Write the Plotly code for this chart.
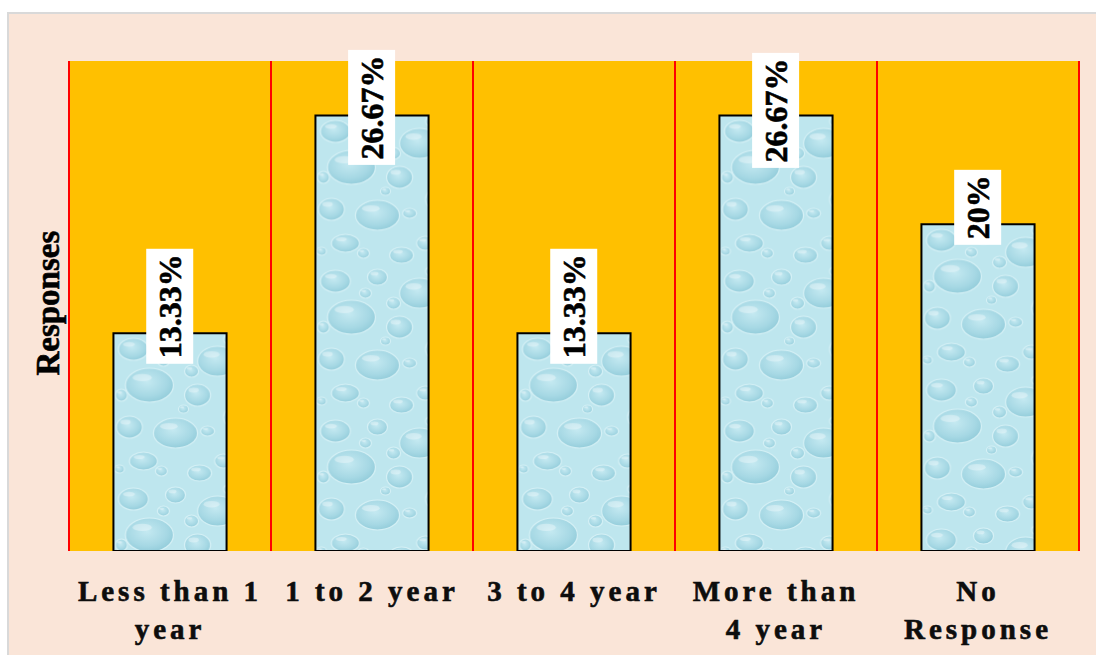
import base64
import plotly.graph_objects as go

# Experience groups and share of responses (%)
categories = ["Less than 1<br>year", "1 to 2 year", "3 to 4 year", "More than<br>4 year", "No<br>Response"]
responses = [13.33, 26.67, 13.33, 26.67, 20]
value_labels = ["13.33%", "26.67%", "13.33%", "26.67%", "20%"]

# label centre offset above the bar top, in px
label_lift = [27, 8, 27, 5, 17]

Y_MAX = 30
PLOT_H = 490
PLOT_W = 1010
BAR_W = 0.56
SERIF = "Liberation Serif, Times New Roman, serif"

# water-drop texture tile 130x150 (cx, cy, rx, ry)
drops = [(20, 16, 15, 11), (62, 12, 10, 8), (104, 28, 20, 15), (36, 52, 24, 17),
         (84, 62, 13, 11), (120, 84, 10, 10), (16, 94, 13, 11), (62, 100, 22, 15),
         (110, 128, 9, 7), (50, 28, 6, 5), (78, 38, 7, 6), (8, 62, 6, 6),
         (94, 98, 7, 5), (30, 128, 14, 9), (124, 54, 5, 5), (70, 76, 5, 4),
         (48, 138, 6, 5), (86, 140, 12, 8), (6, 136, 5, 4), (116, 6, 6, 5)]


def texture_uri(w, h):
    shapes = "".join(
        f'<ellipse cx="{cx}" cy="{cy}" rx="{rx}" ry="{ry}" fill="url(#g)" stroke="#d6f1f6" stroke-width="1.2"/>'
        f'<ellipse cx="{cx - rx * 0.3:.1f}" cy="{cy - ry * 0.45:.1f}" rx="{rx * 0.4:.1f}" ry="{ry * 0.22:.1f}" '
        f'fill="#ffffff" opacity="0.35"/>'
        for cx, cy, rx, ry in drops)
    svg = (f'<svg xmlns="http://www.w3.org/2000/svg" width="{w}" height="{h}" viewBox="0 0 {w} {h}" '
           f'preserveAspectRatio="none"><defs>'
           f'<radialGradient id="g" cx="45%" cy="40%" r="60%">'
           f'<stop offset="0%" stop-color="#c4e9f1"/><stop offset="70%" stop-color="#a6d8e4"/>'
           f'<stop offset="100%" stop-color="#94cddb"/></radialGradient>'
           f'<pattern id="p" width="130" height="150" patternUnits="userSpaceOnUse">'
           f'<rect width="130" height="150" fill="#bee6ee"/>{shapes}</pattern></defs>'
           f'<rect width="{w}" height="{h}" fill="url(#p)"/></svg>')
    return "data:image/svg+xml;base64," + base64.b64encode(svg.encode()).decode()


x = list(range(len(categories)))
n = len(categories)

fig = go.Figure()
fig.add_trace(go.Bar(
    x=x, y=responses, width=BAR_W,
    marker=dict(color="rgba(0,0,0,0)", line=dict(color="#000000", width=2)),
    hoverinfo="skip",
))

# textured fill for each bar
for i, v in enumerate(responses):
    w_px = round(BAR_W * PLOT_W / n)
    h_px = round(v / Y_MAX * PLOT_H)
    fig.add_layout_image(dict(
        source=texture_uri(w_px, h_px), xref="x", yref="y",
        x=i - BAR_W / 2, y=v, sizex=BAR_W, sizey=v,
        sizing="stretch", xanchor="left", yanchor="top", layer="below",
    ))

# red separators between categories
for i in range(n + 1):
    fig.add_shape(type="line", xref="paper", yref="paper", x0=i / n, x1=i / n, y0=0, y1=1,
                  line=dict(color="#ff0000", width=2), layer="below")

# outer white margin and light grey frame
px_x = lambda p: (p - 69) / PLOT_W
px_y = lambda p: (551 - p) / PLOT_H
fig.add_shape(type="rect", xref="paper", yref="paper", x0=px_x(-5), x1=px_x(7), y0=px_y(700), y1=px_y(-5),
              fillcolor="#ffffff", line_width=0, layer="below")
fig.add_shape(type="rect", xref="paper", yref="paper", x0=px_x(-5), x1=px_x(1110), y0=px_y(12), y1=px_y(-5),
              fillcolor="#ffffff", line_width=0, layer="below")
fig.add_shape(type="line", xref="paper", yref="paper", x0=px_x(8), x1=px_x(8), y0=px_y(700), y1=px_y(12),
              line=dict(color="#d9d9d9", width=2), layer="below")
fig.add_shape(type="line", xref="paper", yref="paper", x0=px_x(7), x1=px_x(1110), y0=px_y(13), y1=px_y(13),
              line=dict(color="#d9d9d9", width=2), layer="below")

# value labels
for i, (v, txt, lift) in enumerate(zip(responses, value_labels, label_lift)):
    fig.add_annotation(
        x=i, y=v, text=f"<b>{txt}</b>", textangle=-90, showarrow=False,
        xanchor="center", yanchor="middle", yshift=lift,
        bgcolor="#ffffff", borderpad=5,
        font=dict(family=SERIF, size=32, color="#000000"),
    )

fig.add_annotation(
    x=px_x(48), y=0.505, xref="paper", yref="paper", text="<b>Responses</b>", textangle=-90,
    showarrow=False, xanchor="center", yanchor="middle",
    font=dict(family=SERIF, size=33, color="#000000"),
)

fig.update_layout(
    width=1096, height=655,
    margin=dict(l=69, r=17, t=61, b=104, autoexpand=False),
    paper_bgcolor="#fae5d8", plot_bgcolor="#ffc000",
    showlegend=False, bargap=0.44,
    xaxis=dict(range=[-0.5, 4.5], tickvals=x, ticktext=[f"<b>{c}</b>" for c in categories],
               showgrid=False, zeroline=False, ticks="", showline=False, ticklabelstandoff=20,
               tickfont=dict(family=SERIF, size=29, color="#0d0d0d"), fixedrange=True),
    yaxis=dict(range=[0, Y_MAX], showgrid=False, zeroline=False, showticklabels=False,
               ticks="", showline=False, fixedrange=True),
)

# wider letter spacing on the category labels and a slightly heavier text weight
post = """
var gd = document.getElementById('{plot_id}');
function styleText() {
  gd.querySelectorAll('.xtick text').forEach(function (t) {
    t.style.letterSpacing = '4px';
    t.style.stroke = '#0d0d0d'; t.style.strokeWidth = '0.6px';
  });
  gd.querySelectorAll('.annotation-text').forEach(function (t) {
    t.style.stroke = '#000000'; t.style.strokeWidth = '0.6px';
  });
}
styleText();
gd.on('plotly_afterplot', styleText);
"""

fig.write_html("out.html", post_script=post, config={"displayModeBar": False})
